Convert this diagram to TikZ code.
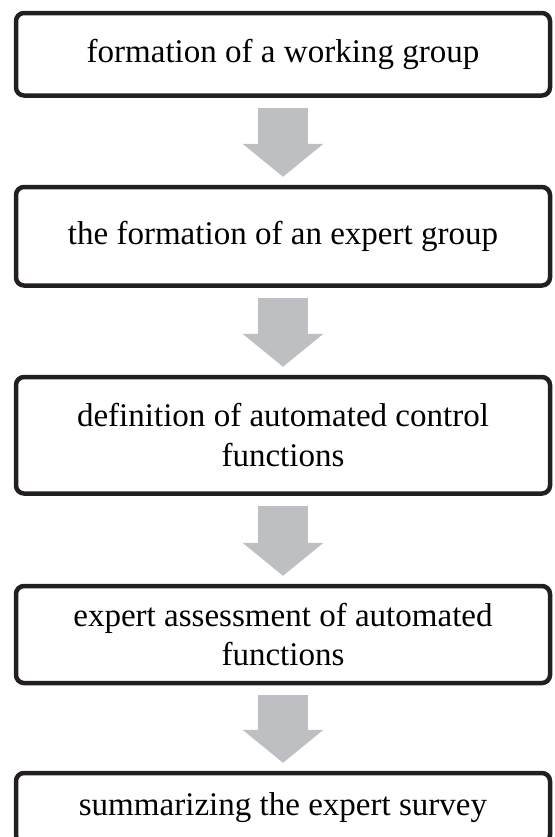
\documentclass[tikz,border=0pt]{standalone}
\usepackage{fontspec}
\setmainfont{Liberation Serif}
\usepackage{tikz}
\usetikzlibrary{arrows.meta}
\definecolor{boxline}{RGB}{35,31,32}
\definecolor{arrowgray}{RGB}{190,191,194}
\tikzset{
stage/.style={draw=boxline, line width=0.09cm, rounded corners=0.16cm, fill=white,
  minimum width=10.68cm, align=center, font=\fontsize{18.8}{22.6}\selectfont},
flow/.style={arrowgray, line width=1cm, shorten <=0.2cm, shorten >=0.16cm,
  -{Triangle[width=1.62cm, length=0.66cm, line width=0pt]}}
}

\begin{document}
\begin{tikzpicture}

\useasboundingbox (0,0) rectangle (11.08,-16.74);

\node [stage, minimum height=1.65cm] (f1) at (5.66,-1.085) {formation of a working group};
\node [stage, minimum height=1.97cm] (f2) at (5.66,-4.725) {the formation of an expert group};
\node [stage, minimum height=2.33cm] (f3) at (5.66,-8.705) {definition of automated control\\functions};
\node [stage, minimum height=1.94cm] (f4) at (5.66,-12.69) {expert assessment of automated\\functions};
\node [stage, minimum height=1.40cm] (f5) at (5.66,-16.16) {summarizing the expert survey};

%\draw [flow] (f1) -- (f2);
\foreach \a/\b in {f1/f2,f2/f3,f3/f4,f4/f5} {\draw [flow] (\a) -- (\b);}

\end{tikzpicture}
\end{document}
